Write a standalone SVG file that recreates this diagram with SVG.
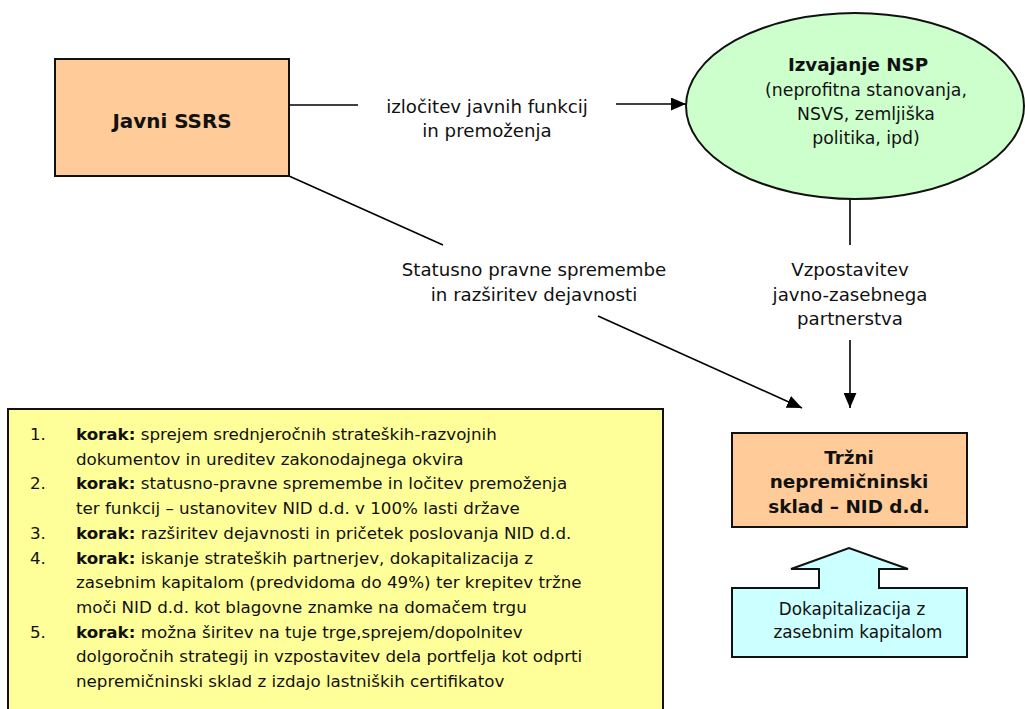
<svg xmlns="http://www.w3.org/2000/svg" width="1025" height="709" viewBox="0 0 1025 709">
<defs>
<style>
.t{font-family:"DejaVu Sans",Verdana,sans-serif;fill:#111;}
.b{font-weight:bold;}
.box{stroke:#111;stroke-width:2;}
.ln{stroke:#000;stroke-width:1.6;fill:none;}
</style>
<marker id="ah2" viewBox="0 0 14 12" refX="14" refY="6" markerWidth="15" markerHeight="13" markerUnits="userSpaceOnUse" orient="auto">
<path d="M0,0 L14,6 L0,12 Z" fill="#000"/>
</marker>
</defs>
<rect width="1025" height="709" fill="#fff"/>

<g id="connectors">
<line class="ln" x1="289" y1="105" x2="358" y2="105"/>
<line class="ln" x1="616" y1="104" x2="686" y2="104" marker-end="url(#ah2)"/>
<line class="ln" x1="289" y1="176" x2="443" y2="245"/>
<line class="ln" x1="598" y1="316" x2="802" y2="408" marker-end="url(#ah2)"/>
<line class="ln" x1="850" y1="199" x2="850" y2="245"/>
<line class="ln" x1="850" y1="340" x2="850" y2="408" marker-end="url(#ah2)"/>
<g class="t" font-size="18.2" text-anchor="middle">
<text x="487" y="113">izločitev javnih funkcij</text>
<text x="487" y="137">in premoženja</text>
<text x="534" y="276">Statusno pravne spremembe</text>
<text x="534" y="301">in razširitev dejavnosti</text>
<text x="850" y="276">Vzpostavitev</text>
<text x="850" y="301">javno-zasebnega</text>
<text x="850" y="325">partnerstva</text>
</g>
</g>

<g id="javni">
<rect class="box" x="55" y="59" width="234" height="117" fill="#FFCC99"/>
<text class="t b" x="172" y="128" font-size="19.9" text-anchor="middle">Javni SSRS</text>
</g>

<g id="nsp">
<ellipse class="box" cx="855" cy="106" rx="169" ry="93" fill="#CCFFCC"/>
<g class="t" font-size="17.3" text-anchor="middle">
<text class="b" x="858" y="71" font-size="18.3">Izvajanje NSP</text>
<text x="866" y="96">(neprofitna stanovanja,</text>
<text x="866" y="120">NSVS,  zemljiška</text>
<text x="866" y="144">politika, ipd)</text>
</g>
</g>

<g id="trzni">
<rect class="box" x="732" y="433" width="235" height="94" fill="#FFCC99"/>
<g class="t b" font-size="18.4" text-anchor="middle">
<text x="849" y="464">Tržni</text>
<text x="849" y="488">nepremičninski</text>
<text x="849" y="513">sklad – NID d.d.</text>
</g>
</g>

<g id="dokap">
<path class="box" d="M732,588 H819 V569 H791 L849,548 L908,569 H879 V588 H967 V657 H732 Z" fill="#CCFFFF"/>
<g class="t" font-size="16.8" text-anchor="middle">
<text x="852" y="615">Dokapitalizacija z</text>
<text x="858" y="638">zasebnim kapitalom</text>
</g>
</g>

<g id="koraki">
<rect class="box" x="8" y="409" width="655" height="310" fill="#FFFF99"/>
<g class="t" font-size="16.7">
<text x="30" y="440">1.</text>
<text x="76" y="440"><tspan class="b">korak:</tspan> sprejem srednjeročnih strateških-razvojnih</text>
<text x="76" y="464.7">dokumentov in ureditev zakonodajnega okvira</text>
<text x="30" y="489.4">2.</text>
<text x="76" y="489.4"><tspan class="b">korak:</tspan> statusno-pravne spremembe in ločitev premoženja</text>
<text x="76" y="514.1">ter funkcij – ustanovitev NID d.d. v 100% lasti države</text>
<text x="30" y="538.8">3.</text>
<text x="76" y="538.8"><tspan class="b">korak:</tspan> razširitev dejavnosti in pričetek poslovanja NID d.d.</text>
<text x="30" y="563.5">4.</text>
<text x="76" y="563.5"><tspan class="b">korak:</tspan> iskanje strateških partnerjev, dokapitalizacija z</text>
<text x="76" y="588.2">zasebnim kapitalom (predvidoma do 49%) ter krepitev tržne</text>
<text x="76" y="612.9">moči NID d.d. kot blagovne znamke na domačem trgu</text>
<text x="30" y="637.6">5.</text>
<text x="76" y="637.6"><tspan class="b">korak:</tspan> možna širitev na tuje trge,sprejem/dopolnitev</text>
<text x="76" y="662.3">dolgoročnih strategij in vzpostavitev dela portfelja kot odprti</text>
<text x="76" y="687">nepremičninski sklad z izdajo lastniških certifikatov</text>
</g>
</g>
</svg>
